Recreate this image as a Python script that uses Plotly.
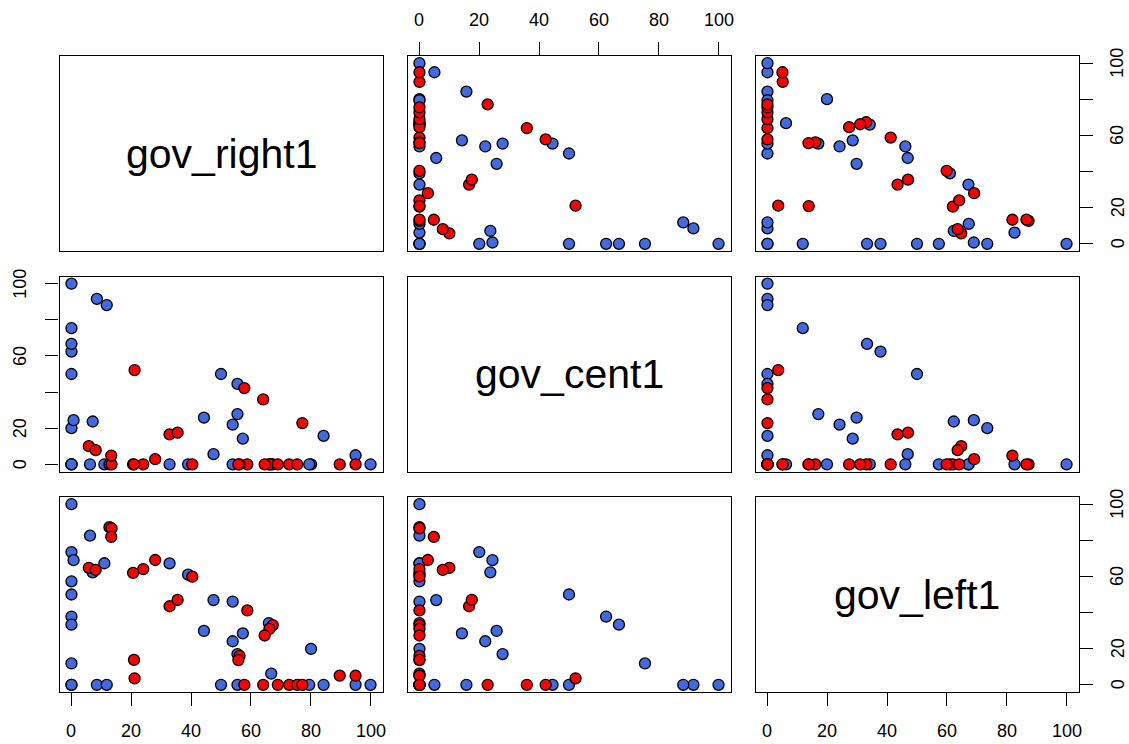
import plotly.graph_objects as go

# Share of cabinet seats held by right, centre and left parties (per cent)
variables = ["gov_right1", "gov_cent1", "gov_left1"]

gov_right1 = [0, 0, 0, 0.7, 0, 0, 0, 0, 0, 0,
              6.2, 7.1, 11.0, 8.5, 11.8, 32.8, 39.0, 47.5, 53.9, 44.3,
              53.9, 57.3, 55.5, 66.0, 80.1, 66.8, 50.0, 55.5, 84.3, 95.0,
              100.0, 79.5,
              12.7, 13.4, 13.3, 5.8, 8.1, 20.6, 24.0, 28.0, 40.4, 32.8,
              35.5, 58.8, 56.2, 55.8, 67.3, 66.2, 64.6, 89.7, 95.0, 20.9,
              21.1, 57.8, 64.1, 69.0, 72.8, 75.5, 77.2]

gov_cent1 = [100.0, 0, 20.0, 24.4, 0, 50.0, 62.4, 66.7, 75.4, 0,
             0, 23.7, 0, 91.6, 88.2, 0, 0, 5.6, 0, 25.8,
             22.0, 14.2, 27.8, 0, 0, 0, 50.0, 44.5, 15.7, 5.0,
             0, 0,
             0, 0, 4.8, 10.0, 7.8, 0, 0, 2.8, 0, 16.6,
             17.5, 0, 0, 0, 0, 0, 0, 0, 0, 0,
             52.2, 42.2, 35.9, 0, 0, 0, 22.8]

gov_left1 = [0, 100.0, 73.5, 69.0, 57.3, 50.0, 37.8, 33.3, 11.8, 0,
             82.6, 62.3, 67.3, 0, 0, 67.2, 61.0, 46.9, 46.1, 29.8,
             24.1, 28.5, 17.0, 34.2, 19.9, 6.2, 0, 0, 0, 0,
             0, 0,
             87.3, 86.6, 81.9, 64.8, 63.6, 62.0, 64.1, 69.1, 59.9, 43.5,
             47.0, 41.2, 16.0, 13.7, 33.0, 31.0, 27.3, 5.1, 5.0, 13.8,
             3.6, 0, 0, 0, 0, 0, 0]

group = ["blue"] * 32 + ["red"] * 27
group_colours = {"blue": "#4169E1", "red": "#FF0000"}

tick_values = [0, 20, 40, 60, 80, 100]
x_tick_text = ["0", "20", "40", "60", "80", "100"]
y_tick_text = ["0", "20", "", "60", "", "100"]

data = [gov_right1, gov_cent1, gov_left1]
colours = [group_colours[g] for g in group]

W, H = 1129, 744
col_left = [59.5, 407.5, 755.5]
row_top = [56.0, 276.5, 497.0]
panel_w, panel_h = 323.0, 195.0
axis_range = [-4, 104]
font_family = "Liberation Sans, Arial, Helvetica, sans-serif"
tick_font = dict(family=font_family, size=18, color="black")

# which panels carry tick marks, and on which side
x_ticks = {(2, 0): "bottom", (0, 1): "top", (2, 2): "bottom"}
y_ticks = {(1, 0): "left", (0, 2): "right", (2, 2): "right"}
label_offset = {"bottom": -39, "top": 36, "left": -39.5, "right": 39}

fig = go.Figure()
layout = {}
annotations = []

for i in range(3):
    for j in range(3):
        k = i * 3 + j + 1
        suffix = "" if k == 1 else str(k)
        if i != j:
            fig.add_trace(go.Scatter(
                x=data[j], y=data[i], mode="markers",
                xaxis="x" + suffix, yaxis="y" + suffix,
                marker=dict(size=11, color=colours,
                            line=dict(color="black", width=1.3)),
                showlegend=False, hoverinfo="skip"))
        else:
            fig.add_trace(go.Scatter(
                x=[None], y=[None], mode="markers",
                xaxis="x" + suffix, yaxis="y" + suffix,
                showlegend=False, hoverinfo="skip"))
            annotations.append(dict(
                text=variables[i], showarrow=False,
                xref="paper", yref="paper",
                x=(col_left[j] + panel_w / 2) / W,
                y=1 - (row_top[i] + panel_h / 2) / H,
                xanchor="center", yanchor="middle",
                font=dict(family=font_family, size=41, color="black")))

        x0 = col_left[j] / W
        x1 = (col_left[j] + panel_w) / W
        y1 = 1 - row_top[i] / H
        y0 = 1 - (row_top[i] + panel_h) / H

        common = dict(range=axis_range, showline=True, mirror=True,
                      linecolor="black", linewidth=1.3, showgrid=False,
                      zeroline=False, fixedrange=True, automargin=False,
                      showticklabels=False)

        xa = dict(domain=[x0, x1], anchor="y" + suffix, **common)
        side = x_ticks.get((i, j))
        if side:
            xa.update(side=side, ticks="outside", ticklen=13, tickwidth=1.3,
                      tickcolor="black", tickvals=tick_values)
            for v, t in zip(tick_values, x_tick_text):
                annotations.append(dict(
                    text=t, showarrow=False,
                    xref="x" + suffix, x=v,
                    yref="y" + suffix + " domain",
                    y=0 if side == "bottom" else 1,
                    yshift=label_offset[side],
                    xanchor="center", yanchor="middle", font=tick_font))
        else:
            xa.update(ticks="")

        ya = dict(domain=[y0, y1], anchor="x" + suffix, **common)
        side = y_ticks.get((i, j))
        if side:
            ya.update(side=side, ticks="outside", ticklen=13, tickwidth=1.3,
                      tickcolor="black", tickvals=tick_values)
            for v, t in zip(tick_values, y_tick_text):
                if t:
                    annotations.append(dict(
                        text=t, showarrow=False, textangle=-90,
                        xref="x" + suffix + " domain",
                        x=0 if side == "left" else 1,
                        xshift=label_offset[side],
                        yref="y" + suffix, y=v,
                        xanchor="center", yanchor="middle", font=tick_font))
        else:
            ya.update(ticks="")

        layout["xaxis" + suffix] = xa
        layout["yaxis" + suffix] = ya

fig.update_layout(
    width=W, height=H,
    margin=dict(l=0, r=0, t=0, b=0, autoexpand=False),
    paper_bgcolor="white", plot_bgcolor="white",
    annotations=annotations,
    **layout)

fig.write_html("out.html")
